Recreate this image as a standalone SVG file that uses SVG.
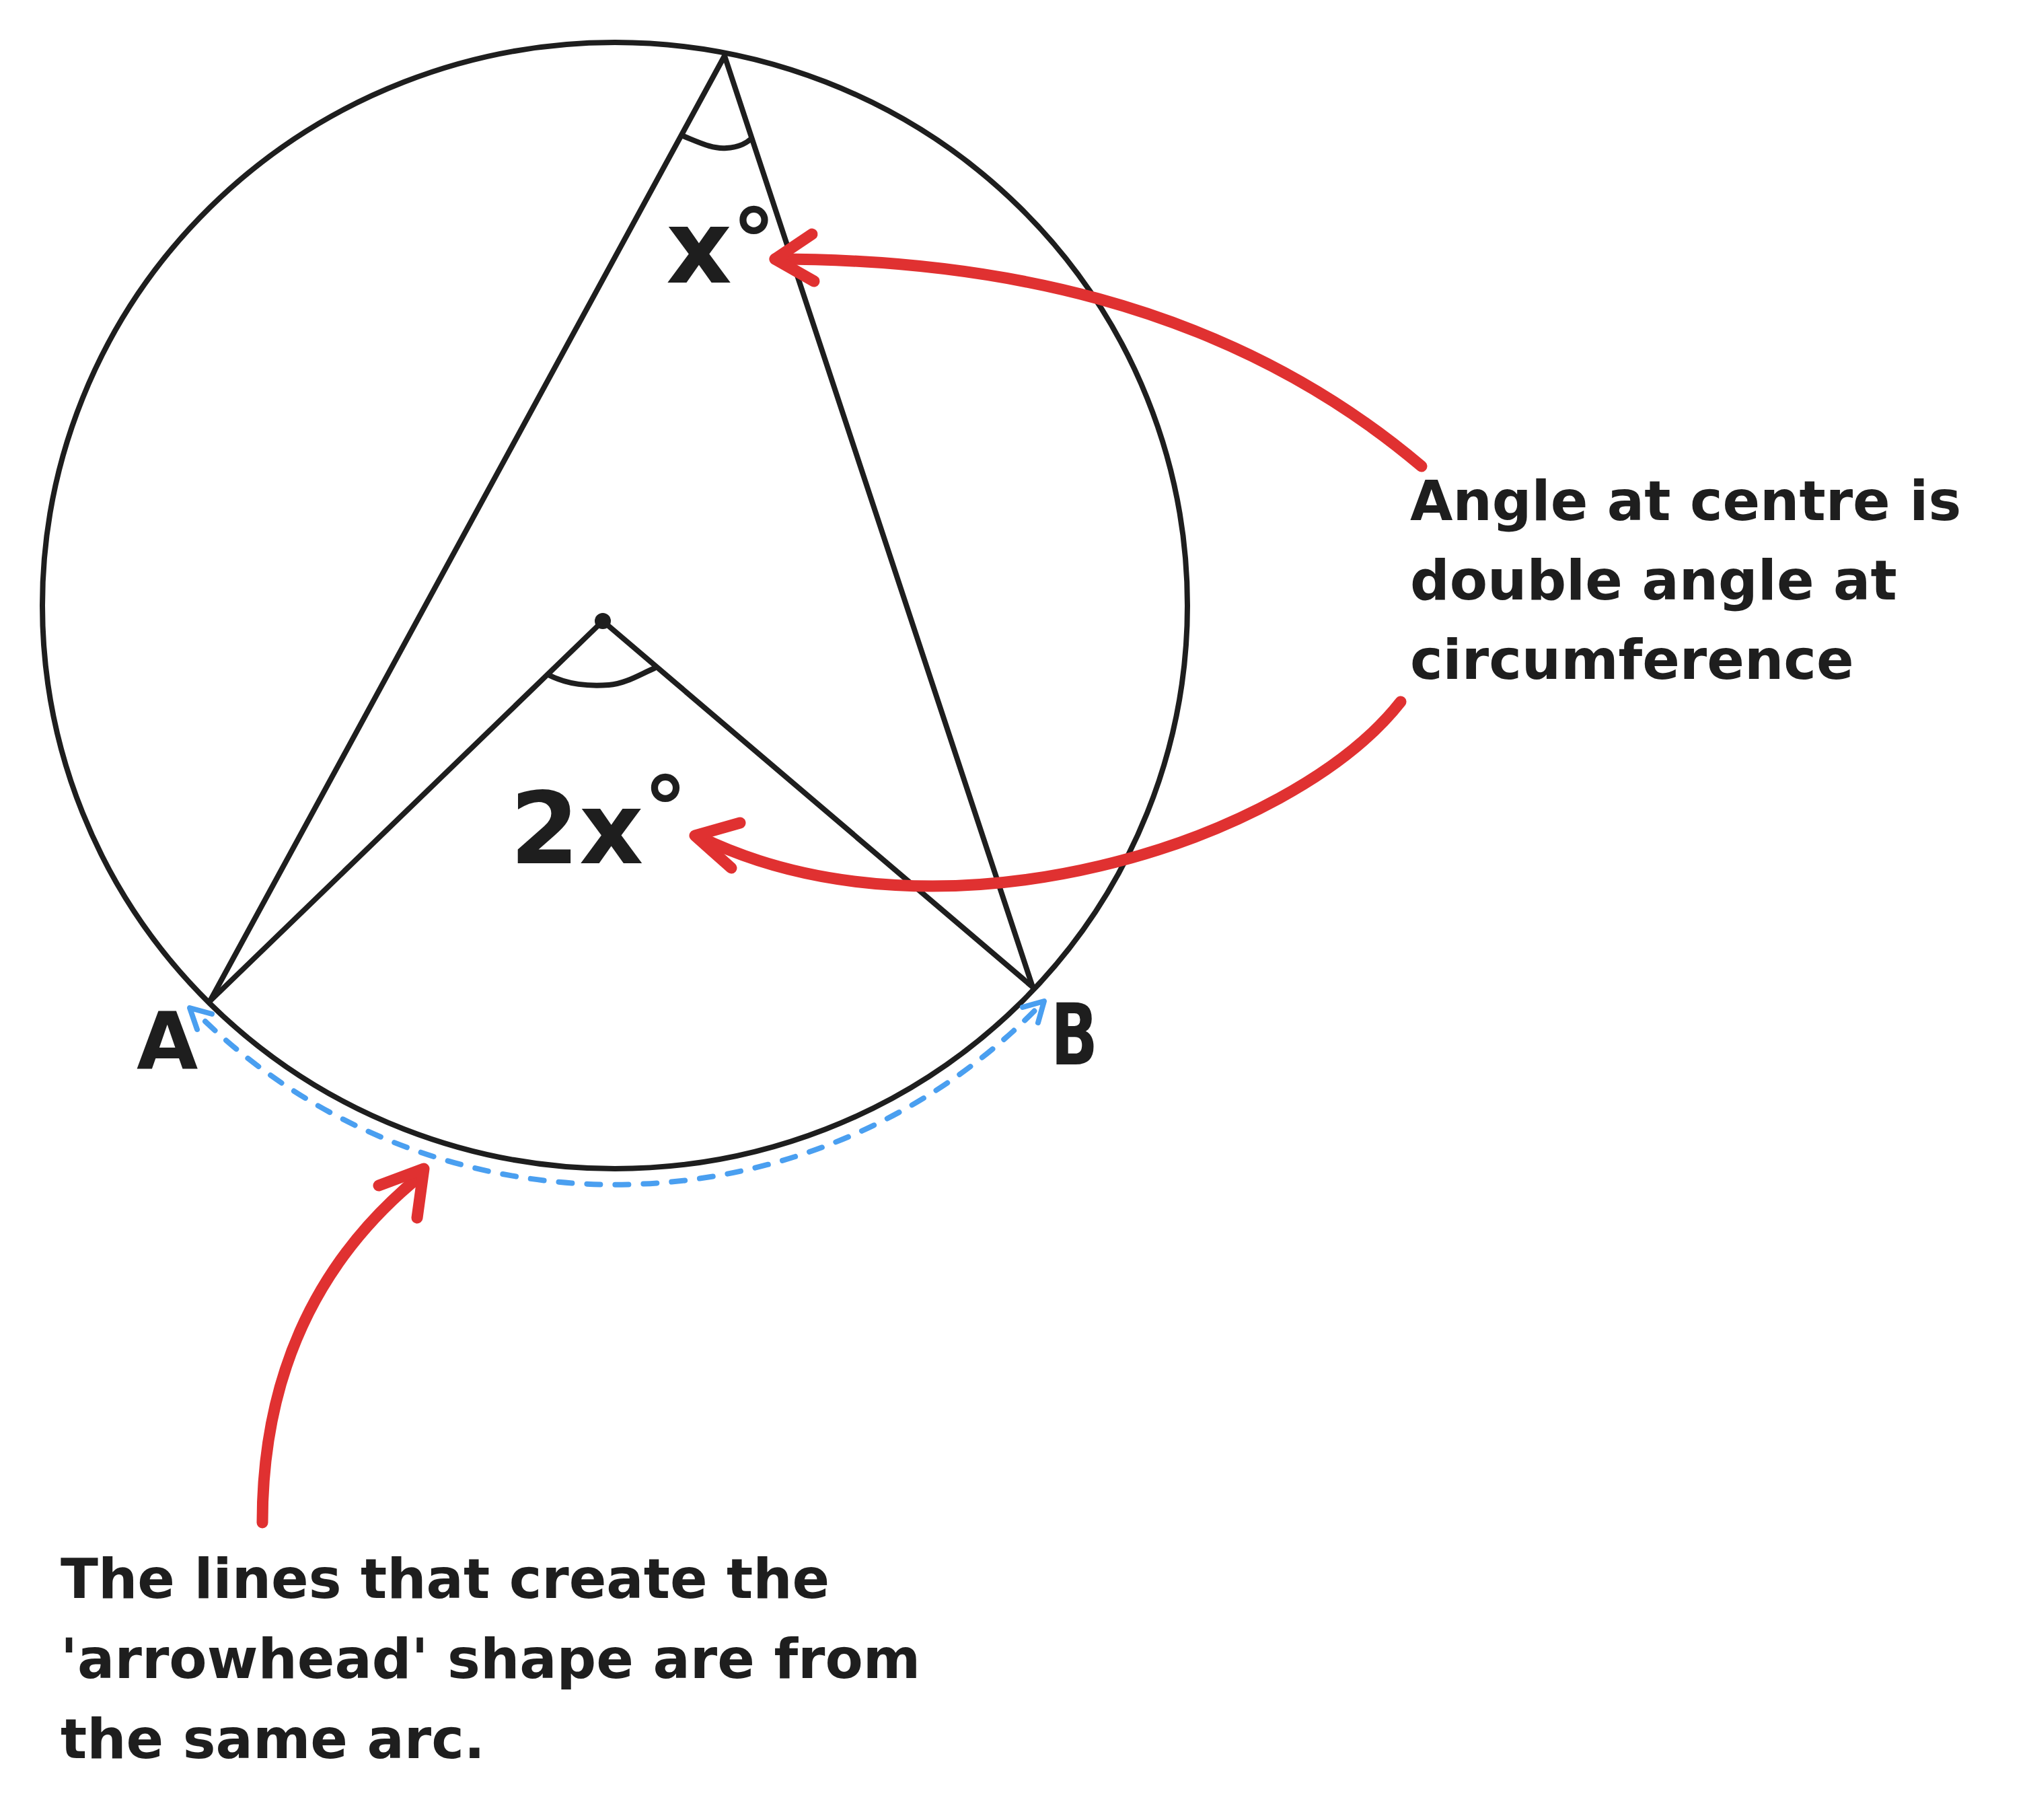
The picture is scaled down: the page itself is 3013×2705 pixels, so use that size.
<svg xmlns="http://www.w3.org/2000/svg" width="3013" height="2705" viewBox="0 0 3013 2705">
<style>
.ink{fill:none;stroke:#1e1e1e;stroke-width:8;stroke-linecap:round;stroke-linejoin:round}
.red{fill:none;stroke:#e03131;stroke-width:17;stroke-linecap:round;stroke-linejoin:round}
.blue{fill:none;stroke:#4a9ff0;stroke-width:8;stroke-linecap:round;stroke-linejoin:round}
.t{font-family:"DejaVu Sans",sans-serif;font-weight:bold;fill:#1e1e1e}
</style>
<rect x="0" y="0" width="3013" height="2705" fill="#ffffff"/>
<g id="circle">
<ellipse class="ink" cx="914" cy="900" rx="851" ry="837"/>
</g>
<g id="triangle">
<path class="ink" d="M312,1488 L1077,83 L1535,1467"/>
<path class="ink" d="M1015,202 C1040,212 1060,222 1080,220 C1100,219 1110,212 1117,206"/>
<text class="t" x="990" y="420" font-size="152">x<tspan font-size="130" dx="0" dy="-17">°</tspan></text>
</g>
<g id="centre-angle">
<path class="ink" d="M312,1488 L896,923 L1535,1467"/>
<circle cx="896" cy="923" r="12" fill="#1e1e1e"/>
<path class="ink" d="M815,1003 C845,1018 875,1020 905,1018 C930,1016 950,1003 973,993"/>
<text class="t" x="758" y="1283" font-size="148">2x<tspan font-size="130" dx="0" dy="-36">°</tspan></text>
</g>
<g id="label-A"><text class="t" x="203" y="1589" font-size="118">A</text></g>
<g id="label-B"><text class="t" x="1562" y="1582" font-size="126" textLength="70" lengthAdjust="spacingAndGlyphs">B</text></g>
<g id="note-centre">
<text class="t" font-size="82"><tspan x="2096" y="773">Angle at centre is</tspan><tspan x="2096" y="891">double angle at</tspan><tspan x="2096" y="1009">circumference</tspan></text>
</g>
<g id="note-arc">
<text class="t" font-size="82"><tspan x="90" y="2375">The lines that create the</tspan><tspan x="90" y="2494">'arrowhead' shape are from</tspan><tspan x="90" y="2613">the same arc.</tspan></text>
</g>
<g id="connectors">
<path class="blue" stroke-dasharray="20 22" d="M305,1518 A873 858 0 0 0 1540,1500"/>
<path class="blue" d="M315,1507 L282,1498 L293,1530"/>
<path class="blue" d="M1520,1497 L1552,1488 L1543,1520"/>
<path class="red" d="M2113,693 C1813,439 1450,385 1152,385"/>
<path class="red" d="M1207,348 L1152,385 L1210,418"/>
<path class="red" d="M2082,1043 C1920,1250 1400,1420 1038,1243"/>
<path class="red" d="M1100,1223 L1033,1242 L1087,1290"/>
<path class="red" d="M390,2263 C390,2060 460,1880 628,1745"/>
<path class="red" d="M563,1762 L630,1737 L620,1810"/>
</g>
</svg>
